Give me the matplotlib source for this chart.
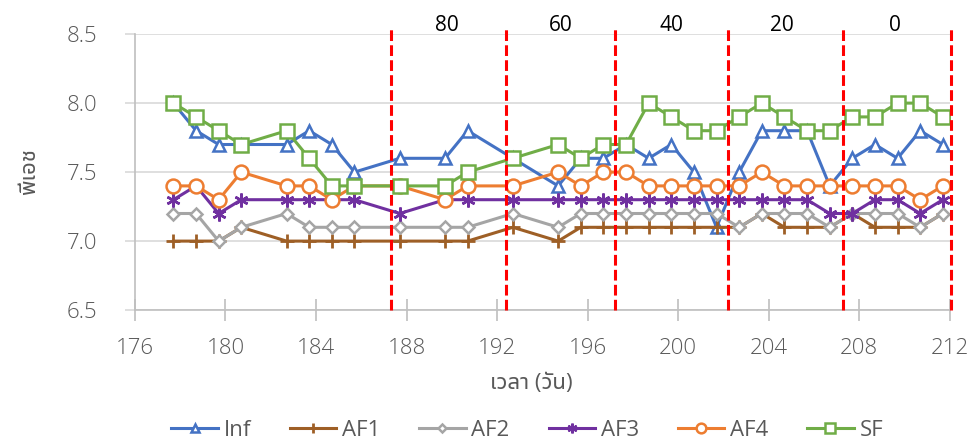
import matplotlib
matplotlib.use("Agg")
import matplotlib.pyplot as plt

# Sampling times (days) and pH of each reactor stream
days = [177.7, 178.7, 179.7, 180.7, 182.7, 183.7, 184.7, 185.7, 187.7, 189.7,
        190.7, 192.7, 194.7, 195.7, 196.7, 197.7, 198.7, 199.7, 200.7, 201.7,
        202.7, 203.7, 204.7, 205.7, 206.7, 207.7, 208.7, 209.7, 210.7, 211.7]

ph_inf = [8.0, 7.8, 7.7, 7.7, 7.7, 7.8, 7.7, 7.5, 7.6, 7.6,
          7.8, 7.6, 7.4, 7.6, 7.6, 7.7, 7.6, 7.7, 7.5, 7.1,
          7.5, 7.8, 7.8, 7.8, 7.4, 7.6, 7.7, 7.6, 7.8, 7.7]
ph_af1 = [7.0, 7.0, 7.0, 7.1, 7.0, 7.0, 7.0, 7.0, 7.0, 7.0,
          7.0, 7.1, 7.0, 7.1, 7.1, 7.1, 7.1, 7.1, 7.1, 7.1,
          7.1, 7.2, 7.1, 7.1, 7.1, 7.2, 7.1, 7.1, 7.1, 7.2]
ph_af2 = [7.2, 7.2, 7.0, 7.1, 7.2, 7.1, 7.1, 7.1, 7.1, 7.1,
          7.1, 7.2, 7.1, 7.2, 7.2, 7.2, 7.2, 7.2, 7.2, 7.2,
          7.1, 7.2, 7.2, 7.2, 7.1, 7.2, 7.2, 7.2, 7.1, 7.2]
ph_af3 = [7.3, 7.4, 7.2, 7.3, 7.3, 7.3, 7.3, 7.3, 7.2, 7.3,
          7.3, 7.3, 7.3, 7.3, 7.3, 7.3, 7.3, 7.3, 7.3, 7.3,
          7.3, 7.3, 7.3, 7.3, 7.2, 7.2, 7.3, 7.3, 7.2, 7.3]
ph_af4 = [7.4, 7.4, 7.3, 7.5, 7.4, 7.4, 7.3, 7.4, 7.4, 7.3,
          7.4, 7.4, 7.5, 7.4, 7.5, 7.5, 7.4, 7.4, 7.4, 7.4,
          7.4, 7.5, 7.4, 7.4, 7.4, 7.4, 7.4, 7.4, 7.3, 7.4]
ph_sf = [8.0, 7.9, 7.8, 7.7, 7.8, 7.6, 7.4, 7.4, 7.4, 7.4,
         7.5, 7.6, 7.7, 7.6, 7.7, 7.7, 8.0, 7.9, 7.8, 7.8,
         7.9, 8.0, 7.9, 7.8, 7.8, 7.9, 7.9, 8.0, 8.0, 7.9]

series_names = ["Inf", "AF1", "AF2", "AF3", "AF4", "SF"]

# Period boundaries and the percentage label of each period
boundaries = [187.3, 192.4, 197.2, 202.2, 207.3, 212.05]
period_labels = ["80", "60", "40", "20", "0"]
period_label_x = [189.8, 194.8, 199.7, 204.6, 209.6]

x_ticks = [176, 180, 184, 188, 192, 196, 200, 204, 208, 212]
y_ticks = [6.5, 7.0, 7.5, 8.0, 8.5]

LATIN = ["Open Sans", "DejaVu Sans"]
THAI = ["Noto Sans Thai UI", "Open Sans", "DejaVu Sans"]
TXT = "#595959"
GRID = "#D9D9D9"

styles = [
    dict(color="#4472C4", marker="^", ms=9, mew=1.8),
    dict(color="#9E5F26", marker="+", ms=10, mew=2.0),
    dict(color="#A5A5A5", marker="D", ms=6.5, mew=1.8),
    dict(color="#7030A0", marker=(6, 2, 0), ms=10, mew=1.8),
    dict(color="#ED7D31", marker="o", ms=10, mew=1.8),
    dict(color="#70AD47", marker="s", ms=10, mew=1.8),
]
values = [ph_inf, ph_af1, ph_af2, ph_af3, ph_af4, ph_sf]

fig = plt.figure(figsize=(9.78, 4.43), dpi=100)
ax = fig.add_axes([0.138, 0.300, 0.833, 0.623])

for name, vals, st in zip(series_names, values, styles):
    ax.plot(days, vals, color=st["color"], lw=2.2, marker=st["marker"],
            ms=st["ms"], mew=st["mew"], mfc="white", mec=st["color"],
            label=name, zorder=3)

ax.set_xlim(176, 212)
ax.set_ylim(6.5, 8.5)
ax.set_xticks(x_ticks)
ax.set_yticks(y_ticks)
ax.set_yticklabels([f"{v:.1f}" for v in y_ticks])
ax.set_xticklabels([str(v) for v in x_ticks])

ax.yaxis.grid(True, color=GRID, lw=1.2, zorder=0)
ax.set_axisbelow(True)
for s in ("top", "right"):
    ax.spines[s].set_visible(False)
ax.spines["left"].set_color("#BFBFBF")
ax.spines["bottom"].set_color("#BFBFBF")
ax.spines["left"].set_linewidth(1.2)
ax.spines["bottom"].set_linewidth(1.2)

ax.tick_params(axis="y", direction="out", length=7, width=1.2, color=GRID,
               pad=20, labelsize=16, labelcolor=TXT)
ax.tick_params(axis="x", direction="inout", length=16, width=1.2, color="#BFBFBF",
               pad=12, labelsize=16, labelcolor=TXT)
for lab in ax.get_xticklabels() + ax.get_yticklabels():
    lab.set_family(LATIN)
    lab.set_fontweight("light")

# Dashed period boundaries reaching slightly above the plot
for b in boundaries:
    ax.plot([b, b], [6.5, 8.56], color="#FF0000", lw=2.2,
            linestyle=(0, (3.5, 1.4)), clip_on=False, zorder=4)
for lx, lab in zip(period_label_x, period_labels):
    ax.text(lx, 8.565, lab, ha="center", va="center", fontsize=15,
            color="black", family=LATIN)

fig.text(0.030, 0.612, "พีเอช", rotation=90, ha="center", va="center",
         fontsize=16, color=TXT, family=THAI)
fig.text(0.543, 0.135, "เวลา (วัน)", ha="center", va="center",
         fontsize=16, color=TXT, family=THAI)

leg = fig.legend(loc="center", bbox_to_anchor=(0.539, 0.028), ncol=6,
                 frameon=False, handlelength=2.1, handletextpad=0.25,
                 columnspacing=1.75, prop={"family": LATIN, "size": 16})
for t in leg.get_texts():
    t.set_color(TXT)
for h in leg.legend_handles:
    h.set_markersize(h.get_markersize() * 0.7)

fig.savefig("out.png", dpi=100)
